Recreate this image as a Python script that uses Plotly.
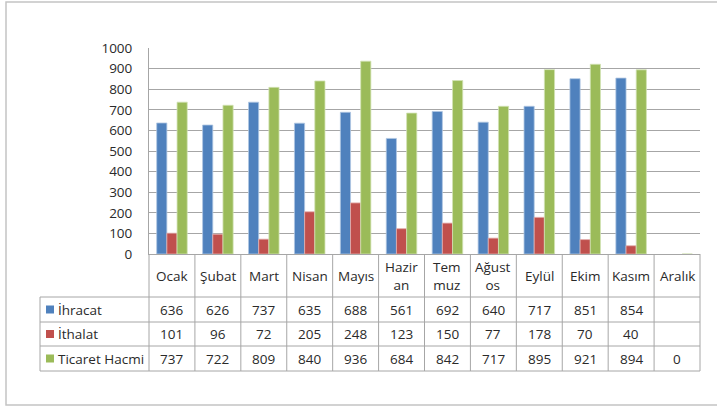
import plotly.graph_objects as go

months = ["Ocak", "Şubat", "Mart", "Nisan", "Mayıs", "Haziran", "Temmuz",
          "Ağustos", "Eylül", "Ekim", "Kasım", "Aralık"]
header_labels = ["Ocak", "Şubat", "Mart", "Nisan", "Mayıs", "Hazir<br>an",
                 "Tem<br>muz", "Ağust<br>os", "Eylül", "Ekim", "Kasım", "Aralık"]
series_names = ["İhracat", "İthalat", "Ticaret Hacmi"]
ihracat = [636, 626, 737, 635, 688, 561, 692, 640, 717, 851, 854, None]
ithalat = [101, 96, 72, 205, 248, 123, 150, 77, 178, 70, 40, None]
ticaret = [737, 722, 809, 840, 936, 684, 842, 717, 895, 921, 894, 0]
y_ticks = [0, 100, 200, 300, 400, 500, 600, 700, 800, 900, 1000]

colors = ["#4F81BD", "#C0504D", "#9BBB59"]
edge_colors = ["#B0C6E2", "#E3AEAD", "#D2E2B4"]
series = [ihracat, ithalat, ticaret]

W, H = 717, 408
L, R, T, B = 149, 700, 48, 254
FONT = "Open Sans"
FS = 13.5
TXT = "#2a2a2a"
GRID = "#A6A6A6"

fig = go.Figure()
for name, vals, c, ec in zip(series_names, series, colors, edge_colors):
    fig.add_trace(go.Bar(x=months, y=vals, name=name, marker_color=c,
                         marker_line=dict(color=ec, width=0.8)))

def py(p):
    return (B - p) / (B - T)

def px(p):
    return (p - L) / (R - L)

shapes = []
anns = []
n = len(months)
row_y = [254, 297, 322, 346, 371]
line = dict(color=GRID, width=1)
# horizontal table lines
for yy in row_y[1:]:
    shapes.append(dict(type="line", xref="paper", yref="paper",
                       x0=px(40), x1=1, y0=py(yy), y1=py(yy), line=line))
# vertical lines
for k in range(n + 1):
    shapes.append(dict(type="line", xref="paper", yref="paper",
                       x0=k / n, x1=k / n, y0=py(254), y1=py(371), line=line))
shapes.append(dict(type="line", xref="paper", yref="paper",
                   x0=px(40), x1=px(40), y0=py(297), y1=py(371), line=line))
# outer border
shapes.append(dict(type="rect", xref="paper", yref="paper",
                   x0=px(6), x1=px(740), y0=py(2), y1=py(405),
                   line=dict(color="#C4C4C4", width=1.5)))

# header labels
for i, lab in enumerate(header_labels):
    anns.append(dict(x=(i + 0.5) / n, y=py(275.5), xref="paper", yref="paper",
                     text=lab, showarrow=False, xanchor="center", yanchor="middle",
                     font=dict(family=FONT, size=FS, color=TXT)))
# rows
for r, (name, vals, c) in enumerate(zip(series_names, series, colors)):
    yc = (row_y[r + 1] + row_y[r + 2]) / 2
    shapes.append(dict(type="rect", xref="paper", yref="paper",
                       x0=px(46), x1=px(54), y0=py(yc - 4), y1=py(yc + 4),
                       fillcolor=c, line=dict(width=0)))
    anns.append(dict(x=px(56), y=py(yc), xref="paper", yref="paper", text=name,
                     showarrow=False, xanchor="left", yanchor="middle",
                     font=dict(family=FONT, size=FS, color=TXT)))
    for i, v in enumerate(vals):
        if v is None:
            continue
        anns.append(dict(x=(i + 0.5) / n, y=py(yc), xref="paper", yref="paper",
                         text=str(v), showarrow=False, xanchor="center",
                         yanchor="middle",
                         font=dict(family=FONT, size=FS, color=TXT)))

fig.update_layout(
    width=W, height=H,
    margin=dict(l=L, r=W - R, t=T, b=H - B, pad=0),
    paper_bgcolor="white", plot_bgcolor="white",
    barmode="group", bargap=0.335, bargroupgap=0,
    showlegend=False,
    shapes=shapes, annotations=anns,
    xaxis=dict(type="category", range=[-0.5, 11.5], showticklabels=False,
               showgrid=False, zeroline=False, showline=True,
               linecolor=GRID, linewidth=1, ticks=""),
    yaxis=dict(range=[0, 1000], tickvals=y_ticks, showgrid=True,
               gridcolor=GRID, gridwidth=1, zeroline=False, showline=True,
               linecolor=GRID, linewidth=1, ticks="", ticklabelstandoff=13,
               tickfont=dict(family=FONT, size=FS, color=TXT)),
)

fig.write_html("out.html", config={"displayModeBar": False},
               post_script="document.body.style.margin='0';"
                           "document.body.style.overflow='hidden';")
